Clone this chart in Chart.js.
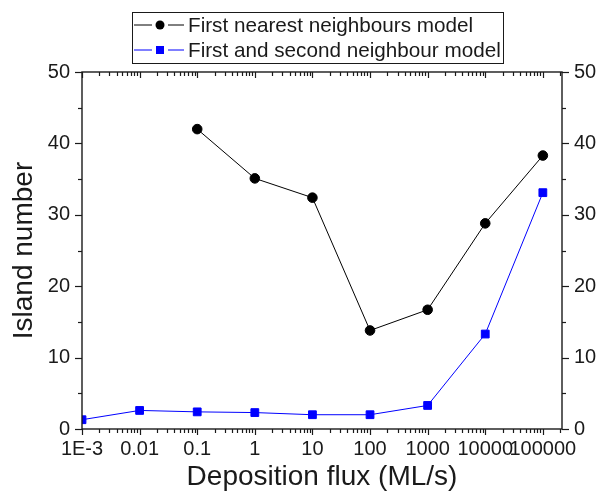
<!DOCTYPE html>
<html>
<head>
<meta charset="utf-8">
<script src="https://cdn.jsdelivr.net/npm/chart.js@4"></script>
<style>
  html, body { margin: 0; padding: 0; background: #fff; }
  #wrap { width: 600px; height: 494px; }
</style>
</head>
<body>
<div id="wrap"><canvas id="c" width="600" height="494"></canvas></div>
<script>
// ─── Data ────────────────────────────────────────────────────────────────

const fluxValues   = [0.001, 0.01, 0.1, 1, 10, 100, 1000, 10000, 100000];
const fluxLabels   = ['1E-3', '0.01', '0.1', '1', '10', '100', '1000', '10000', '100000'];
const nearestModel = [null, null, 42.0, 35.1, 32.4, 13.8, 16.7, 28.8, 38.3];
const secondModel  = [1.3, 2.6, 2.4, 2.3, 2.0, 2.0, 3.3, 13.3, 33.1];
const yTicks       = [0, 10, 20, 30, 40, 50];

const seriesNames = ['First nearest neighbours model', 'First and second neighbour model'];

const FONT = "'Liberation Sans', Arial, sans-serif";
const INK = '#1a1a1a';

function points(vals) {
  return fluxValues.map((x, i) => ({ x, y: vals[i] })).filter(p => p.y !== null);
}

// ─── Frame, ticks and legend (Origin style) ──────────────────────────────

const framePlugin = {
  id: 'frame',
  afterDraw(chart) {
    const { ctx, chartArea: a, scales } = chart;
    const xs = scales.x, ys = scales.y;
    ctx.save();
    ctx.strokeStyle = INK;
    ctx.lineWidth = 1.4;
    ctx.strokeRect(a.left, a.top, a.right - a.left, a.bottom - a.top);

    ctx.lineWidth = 1.2;
    const tick = (x1, y1, x2, y2) => { ctx.beginPath(); ctx.moveTo(x1, y1); ctx.lineTo(x2, y2); ctx.stroke(); };

    // x: decades major, 2..9 minor; bottom outward, top inward
    for (let e = -3; e <= 5; e++) {
      for (let m = 1; m <= 9; m++) {
        const v = m * Math.pow(10, e);
        if (v > xs.max) continue;
        const px = Math.round(xs.getPixelForValue(v)) + 0.5;
        const len = m === 1 ? 6 : 4;
        tick(px, a.bottom, px, a.bottom + len);
        tick(px, a.top, px, a.top + len);
      }
    }
    // y: major every 10, minor every 5; both sides outward
    for (let v = 0; v <= 50; v += 5) {
      const py = Math.round(ys.getPixelForValue(v)) + 0.5;
      const len = v % 10 === 0 ? 7 : 4;
      tick(a.left - len, py, a.left, py);
      tick(a.right, py, a.right + len, py);
    }

    // legend box
    const bx = 132, by = 12, bw = 371, bh = 51;
    ctx.lineWidth = 1;
    ctx.strokeRect(bx + 0.5, by + 0.5, bw, bh);
    ctx.font = '20.7px ' + FONT;
    ctx.textBaseline = 'middle';
    chart.data.datasets.forEach((ds, i) => {
      const cy = 25 + i * 25;
      ctx.strokeStyle = ds.borderColor;
      ctx.lineWidth = 1;
      tick(134, cy, 152, cy);
      tick(168, cy, 184, cy);
      ctx.fillStyle = ds.pointBackgroundColor;
      if (ds.pointStyle === 'circle') {
        ctx.beginPath(); ctx.arc(160, cy, 4.5, 0, Math.PI * 2); ctx.fill();
      } else {
        ctx.fillRect(156, cy - 4, 8, 8);
      }
      ctx.fillStyle = INK;
      ctx.fillText(ds.label, 188, cy + 1);
    });
    ctx.restore();
  },
};

// ─── Chart ───────────────────────────────────────────────────────────────

const tickFont = { family: FONT, size: 20 };
const titleFont = { family: FONT, size: 28 };

new Chart(document.getElementById('c'), {
  type: 'line',
  data: {
    datasets: [
      {
        label: seriesNames[0],
        data: points(nearestModel),
        borderColor: '#000000',
        backgroundColor: '#000000',
        pointBackgroundColor: '#000000',
        pointBorderColor: '#000000',
        pointStyle: 'circle',
        pointRadius: 4.8,
        borderWidth: 1,
        tension: 0,
      },
      {
        label: seriesNames[1],
        data: points(secondModel),
        borderColor: '#0000ff',
        backgroundColor: '#0000ff',
        pointBackgroundColor: '#0000ff',
        pointBorderColor: '#0000ff',
        pointStyle: 'rect',
        pointRadius: 5.5,
        borderWidth: 1,
        tension: 0,
      },
    ],
  },
  options: {
    responsive: false,
    animation: false,
    events: [],
    layout: { padding: { top: 72, left: 0, right: 0, bottom: 0 } },
    plugins: { legend: { display: false }, tooltip: { enabled: false } },
    scales: {
      x: {
        type: 'logarithmic',
        min: 0.001,
        max: 215000,
        grid: { display: false, drawTicks: false },
        border: { display: false },
        afterBuildTicks: s => { s.ticks = fluxValues.map(v => ({ value: v })); },
        afterFit: s => { s.height = 65; },
        ticks: {
          autoSkip: false,
          maxRotation: 0,
          padding: 8,
          color: INK,
          font: tickFont,
          callback: v => fluxLabels[fluxValues.indexOf(v)] ?? '',
        },
        title: {
          display: true,
          text: 'Deposition flux (ML/s)',
          color: INK,
          font: titleFont,
          padding: { top: 0, bottom: 0 },
        },
      },
      y: {
        position: 'left',
        min: 0,
        max: 50,
        grid: { display: false, drawTicks: false },
        border: { display: false },
        afterBuildTicks: s => { s.ticks = yTicks.map(v => ({ value: v })); },
        afterFit: s => { s.width = 82; },
        ticks: { padding: 12, color: INK, font: tickFont },
        title: {
          display: true,
          text: 'Island number',
          color: INK,
          font: titleFont,
          padding: { top: 7, bottom: 0 },
        },
      },
      y2: {
        position: 'right',
        min: 0,
        max: 50,
        grid: { display: false, drawTicks: false },
        border: { display: false },
        afterBuildTicks: s => { s.ticks = yTicks.map(v => ({ value: v })); },
        afterFit: s => { s.width = 38; },
        ticks: { padding: 12, color: INK, font: tickFont },
      },
    },
  },
  plugins: [framePlugin],
});
</script>
</body>
</html>
